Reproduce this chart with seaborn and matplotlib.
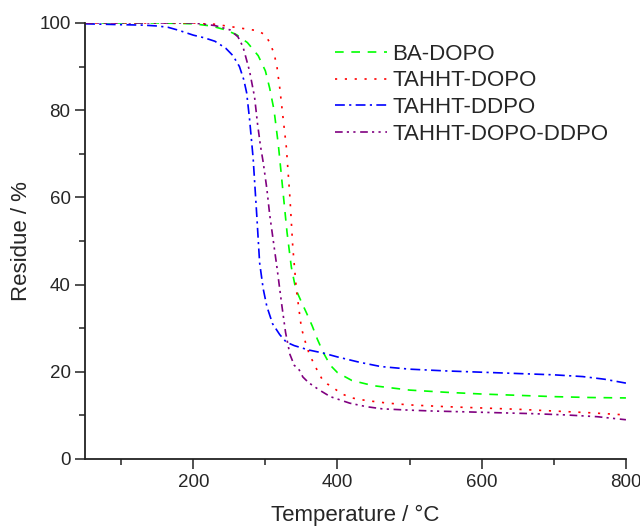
import numpy as np
import pandas as pd
import matplotlib
matplotlib.use("Agg")
import matplotlib.pyplot as plt
import seaborn as sns

# ---- data ----
ba_T = [50, 100, 150, 200, 225, 245, 260, 275, 290, 300, 306, 312, 318, 324, 330, 336, 342, 350, 357,
        365, 372, 380, 390, 400, 420, 450, 500, 550, 600, 650, 700, 750, 800]
ba_Y = [100, 100, 100, 99.8, 99.3, 98.4, 97.3, 95.5, 92.5, 89, 85, 80, 72, 62, 52, 44, 39, 36, 33.5,
        30.5, 27.5, 24.5, 21.5, 19.8, 18, 16.8, 15.8, 15.3, 14.9, 14.6, 14.3, 14.1, 14.0]

td_T = [50, 100, 150, 200, 230, 250, 270, 290, 300, 306, 312, 316, 320, 324, 329, 334, 338, 343, 350,
        356, 361, 366, 372, 379, 386, 393, 405, 420, 440, 470, 500, 550, 600, 650, 700, 750, 800]
td_Y = [100, 100, 100, 100, 99.7, 99.2, 98.7, 98.2, 97.2, 95.5, 93, 90, 85, 79, 71.6, 60, 48.6, 38.8, 30,
        26.5, 24, 22.3, 20.3, 18.2, 17.2, 16.5, 15, 14, 13.4, 12.8, 12.4, 12.0, 11.7, 11.4, 11.0, 10.6, 10.1]

dd_T = [50, 100, 130, 150, 165, 180, 200, 215, 230, 245, 255, 264, 270, 274, 278, 283, 288, 292, 297,
        302, 310, 320, 329, 340, 360, 380, 400, 430, 460, 500, 550, 600, 650, 700, 740, 770, 800]
dd_Y = [99.8, 99.6, 99.5, 99.3, 99.0, 98.3, 97.2, 96.6, 95.8, 94.2, 92.5, 90, 87, 84, 78, 69, 56, 45, 39,
        35, 31, 28.5, 26.8, 26, 25, 24.3, 23.4, 22.2, 21.2, 20.6, 20.2, 19.9, 19.6, 19.3, 18.9, 18.3, 17.4]

tdd_T = [50, 100, 150, 200, 230, 251, 262, 269, 278, 285, 289, 293, 297, 302, 306, 311, 316, 323, 328,
         334, 340, 347, 352, 360, 375, 390, 417, 440, 462, 500, 532, 580, 624, 670, 717, 760, 800]
tdd_Y = [100, 100, 100, 100, 99.4, 98.4, 96.8, 94.5, 89, 83, 77, 72, 68, 62, 56, 50, 44, 35, 29,
         24, 21.5, 20.4, 18.8, 17.5, 15.8, 14.3, 12.8, 12, 11.5, 11.2, 11, 10.8, 10.6, 10.4, 10.1, 9.7, 9.0]

names = ["BA-DOPO", "TAHHT-DOPO", "TAHHT-DDPO", "TAHHT-DOPO-DDPO"]
colors = ["#00FF00", "#FF0000", "#0000FF", "#800080"]

sns.set_style("ticks")
plt.rcParams['font.family'] = ['Liberation Sans', 'DejaVu Sans']

fig = plt.figure(figsize=(6.4, 5.26), dpi=100)
ax = fig.add_axes([0.133, 0.1274, 0.845, 0.829])

series = [(ba_T, ba_Y), (td_T, td_Y), (dd_T, dd_Y), (tdd_T, tdd_Y)]
styles = [(0, (5.2, 4.6)), (0, (1.3, 4.6)), (0, (5.9, 2.6, 1.3, 2.6)),
          (0, (4.6, 2.5, 1.3, 2.6, 1.3, 2.8))]
for (T, Y), n, c, ls in zip(series, names, colors, styles):
    df = pd.DataFrame({"T": T, "Y": Y})
    sns.lineplot(data=df, x="T", y="Y", ax=ax, color=c, linestyle=ls, linewidth=1.2, label=n)

ax.set_xlim(50, 800)
ax.set_ylim(0, 100)
ax.set_xticks([200, 400, 600, 800])
ax.set_xticks([100, 300, 500, 700], minor=True)
ax.set_yticks([0, 20, 40, 60, 80, 100])
ax.set_yticks([10, 30, 50, 70, 90], minor=True)
ax.tick_params(which="major", direction="out", length=7, width=1.1, labelsize=13.5, color="#222222")
ax.tick_params(which="minor", direction="out", length=4, width=1.1, color="#222222")
for s in ["top", "right"]:
    ax.spines[s].set_visible(False)
for s in ["left", "bottom"]:
    ax.spines[s].set_linewidth(1.3)
    ax.spines[s].set_color("#222222")

ax.set_xlabel("Temperature / °C", fontsize=16, labelpad=10)
ax.set_ylabel("Residue / %", fontsize=16, labelpad=5)

leg = ax.legend(loc="upper left", bbox_to_anchor=(0.462, 0.952), frameon=False, fontsize=16,
                handlelength=2.35, handletextpad=0.22, labelspacing=0.25, borderaxespad=0,
                borderpad=0)

fig.savefig("out.png", dpi=100)
